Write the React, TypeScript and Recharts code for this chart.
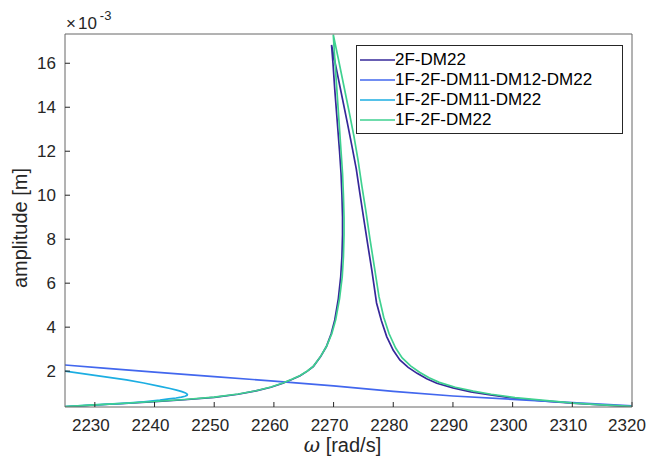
import { LineChart, Line, XAxis, YAxis, Legend, Label } from 'recharts';

// omega [rad/s], amplitude [x 1e-3 m]
const dm22Pts: [number, number][] = [
  [2225, 0.38], [2230, 0.46], [2235, 0.53], [2240, 0.61], [2245, 0.7], [2250, 0.81],
  [2254, 0.95], [2257, 1.1], [2259.5, 1.27], [2261.5, 1.45], [2263, 1.62], [2264.4, 1.79],
  [2265.6, 2.0], [2266.6, 2.21], [2267.8, 2.65], [2268.8, 3.12], [2269.6, 3.7], [2270.2, 4.33],
  [2270.8, 5.3], [2271.2, 6.3], [2271.4, 7.2], [2271.5, 8.2], [2271.5, 9.0], [2271.4, 10.0],
  [2271.25, 11.0], [2271.0, 12.0], [2270.6, 13.4], [2270.2, 14.8], [2269.9, 16.0], [2269.66, 16.83],
  [2270.5, 15.7], [2271.4, 14.5], [2272.3, 13.3], [2273.1, 12.2], [2273.8, 11.2], [2274.4, 10.1],
  [2275.0, 9.03], [2275.7, 7.8], [2276.4, 6.6], [2277.2, 5.1], [2278.0, 4.3], [2278.9, 3.57],
  [2280.0, 2.95], [2281.1, 2.51], [2282.5, 2.17], [2284, 1.9], [2285.6, 1.65], [2287.3, 1.45],
  [2290, 1.24], [2293, 1.06], [2296, 0.93], [2300, 0.78], [2305, 0.65], [2310, 0.54],
  [2315, 0.46], [2320, 0.39],
];

const fullPts: [number, number][] = [
  [2225, 2.28], [2232, 2.13], [2240, 1.96], [2250, 1.75], [2260, 1.55], [2270, 1.33],
  [2280, 1.08], [2290, 0.87], [2300, 0.72], [2310, 0.57], [2320, 0.42],
];

const dm11Pts: [number, number][] = [
  [2225, 2.0], [2230, 1.81], [2235.3, 1.6], [2238.2, 1.46], [2240.9, 1.31], [2242.6, 1.21],
  [2243.7, 1.14], [2244.6, 1.07], [2245.2, 1.01], [2245.5, 0.95], [2245.45, 0.9], [2245.1, 0.86],
  [2244.5, 0.82], [2243.6, 0.78], [2242.4, 0.74], [2240.9, 0.68], [2238.2, 0.61], [2235.3, 0.55],
  [2230, 0.47], [2225, 0.39],
];

const oneFPts: [number, number][] = [
  [2225, 0.39], [2230, 0.47], [2235, 0.54], [2240, 0.62], [2245, 0.71], [2250, 0.82],
  [2254, 0.96], [2257, 1.11], [2259.5, 1.28], [2261.5, 1.46], [2263, 1.63], [2264.4, 1.8],
  [2265.6, 2.01], [2266.6, 2.22], [2267.8, 2.66], [2268.8, 3.12], [2269.7, 3.7], [2270.35, 4.33],
  [2271.0, 5.3], [2271.45, 6.3], [2271.65, 7.2], [2271.75, 8.2], [2271.75, 9.0], [2271.65, 10.0],
  [2271.5, 11.0], [2271.25, 12.0], [2270.9, 13.4], [2270.55, 14.8], [2270.2, 16.2], [2269.95, 17.3],
  [2270.8, 16.2], [2271.7, 15.0], [2272.6, 13.8], [2273.4, 12.7], [2274.1, 11.6], [2274.75, 10.4],
  [2275.4, 9.3], [2276.1, 8.0], [2276.8, 6.8], [2277.6, 5.4], [2278.4, 4.45], [2279.3, 3.7],
  [2280.4, 3.05], [2281.5, 2.6], [2282.9, 2.24], [2284.4, 1.95], [2286, 1.7], [2287.7, 1.49],
  [2290.4, 1.27], [2293.4, 1.09], [2296.4, 0.95], [2300.4, 0.8], [2305.3, 0.67], [2310.3, 0.55],
  [2315, 0.47], [2320, 0.4],
];

const xTicks = [2230, 2240, 2250, 2260, 2270, 2280, 2290, 2300, 2310, 2320];
const yTicks = [2, 4, 6, 8, 10, 12, 14, 16];

const series = [
  { name: '2F-DM22', color: '#36289a', pts: dm22Pts },
  { name: '1F-2F-DM11-DM12-DM22', color: '#4267ee', pts: fullPts },
  { name: '1F-2F-DM11-DM22', color: '#1caee2', pts: dm11Pts },
  { name: '1F-2F-DM22', color: '#3fd190', pts: oneFPts },
];

const toRows = (pts: [number, number][]) => pts.map(([x, y]) => ({ x, y }));

const axisColor = '#666666';
const textColor = '#262626';

const renderLegend = () => (
  <div
    style={{
      border: '1px solid #262626',
      background: '#fff',
      width: 267,
      height: 89,
      boxSizing: 'border-box',
      paddingTop: 4,
      paddingLeft: 3,
    }}
  >
    {series.map((s) => (
      <div key={s.name} style={{ display: 'flex', alignItems: 'center', height: 20 }}>
        <svg width={35} height={4} style={{ display: 'block' }}>
          <line x1={0} x2={35} y1={2} y2={2} stroke={s.color} strokeWidth={1.5} />
        </svg>
        <span style={{ fontSize: 17, color: '#000', lineHeight: '20px' }}>{s.name}</span>
      </div>
    ))}
  </div>
);

export default function App() {
  return (
    <div
      style={{
        position: 'absolute',
        left: 0,
        top: 0,
        width: 648,
        height: 458,
        background: '#fff',
        fontFamily: '"Liberation Sans", Arial, Helvetica, sans-serif',
      }}
    >
      <LineChart width={648} height={458} margin={{ top: 0, right: 0, bottom: 0, left: 0 }}>
        <XAxis
          xAxisId="bottom"
          dataKey="x"
          type="number"
          domain={[2225, 2320]}
          ticks={xTicks}
          allowDataOverflow
          height={51}
          tickSize={-5}
          tickMargin={17}
          axisLine={{ stroke: axisColor }}
          tickLine={{ stroke: textColor }}
          tick={{ fill: textColor, fontSize: 17, dx: -4 }}
        >
          <Label
            content={({ viewBox }: any) => (
              <text
                x={viewBox.x + viewBox.width / 2 - 6}
                y={viewBox.y + 45}
                textAnchor="middle"
                style={{ fontSize: 20 }}
                fill={textColor}
              >
                <tspan fontStyle="italic" fontFamily="DejaVu Serif, serif">ω</tspan>
                <tspan> [rad/s]</tspan>
              </text>
            )}
          />
        </XAxis>
        <XAxis
          xAxisId="top"
          dataKey="x"
          type="number"
          orientation="top"
          domain={[2225, 2320]}
          ticks={xTicks}
          allowDataOverflow
          height={34}
          tickSize={-5}
          tick={false}
          axisLine={{ stroke: axisColor }}
          tickLine={{ stroke: textColor }}
        />
        <YAxis
          yAxisId="left"
          type="number"
          domain={[0.37, 17.33]}
          ticks={yTicks}
          allowDataOverflow
          width={65}
          tickSize={-5}
          tickMargin={14}
          axisLine={{ stroke: axisColor }}
          tickLine={{ stroke: textColor }}
          tick={{ fill: textColor, fontSize: 17 }}
        >
          <Label
            content={() => (
              <text
                x={27}
                y={228}
                transform={`rotate(-90, 27, 228)`}
                textAnchor="middle"
                style={{ fontSize: 20 }}
                fill={textColor}
              >
                amplitude [m]
              </text>
            )}
          />
        </YAxis>
        <YAxis
          yAxisId="right"
          type="number"
          orientation="right"
          domain={[0.37, 17.33]}
          ticks={yTicks}
          allowDataOverflow
          width={16}
          tickSize={-5}
          tick={false}
          axisLine={{ stroke: axisColor }}
          tickLine={{ stroke: textColor }}
        />
        <Legend
          layout="horizontal"
          verticalAlign="middle"
          align="center"
          wrapperStyle={{ left: 356, top: 45, width: 267, height: 89 }}
          content={renderLegend}
        />
        {series.map((s) => (
          <Line
            key={s.name}
            name={s.name}
            data={toRows(s.pts)}
            dataKey="y"
            xAxisId="bottom"
            yAxisId="left"
            type="linear"
            stroke={s.color}
            strokeWidth={1.7}
            dot={false}
            activeDot={false}
            isAnimationActive={false}
          />
        ))}
      </LineChart>
      {/* axis exponent, MATLAB style */}
      <div
        style={{
          position: 'absolute',
          left: 66,
          top: 14,
          fontSize: 17,
          lineHeight: '20px',
          color: textColor,
          whiteSpace: 'nowrap',
        }}
      >
        <span>×</span>
        <span style={{ marginLeft: 2 }}>10</span>
        <span style={{ fontSize: 13, position: 'relative', top: -9, marginLeft: 3 }}>-3</span>
      </div>
    </div>
  );
}
